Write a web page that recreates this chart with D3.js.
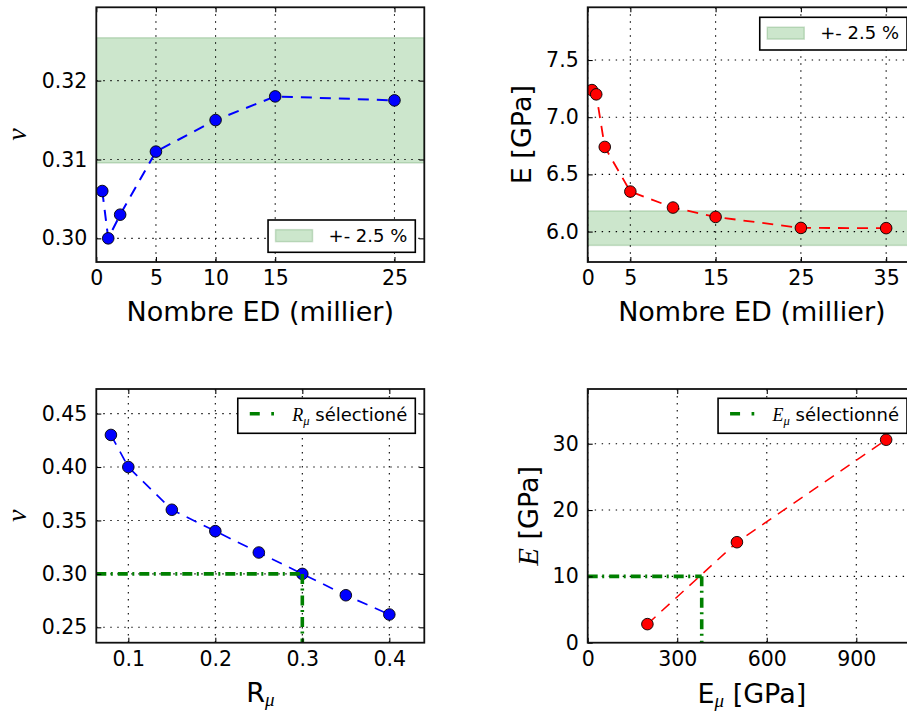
<!DOCTYPE html>
<html>
<head>
<meta charset="utf-8">
<script src="https://cdn.jsdelivr.net/npm/d3@7"></script>
<style>
  html, body { margin: 0; padding: 0; background: #fff; }
  svg { display: block; }
  text { font-family: "DejaVu Sans", sans-serif; fill: #000; }
</style>
</head>
<body>
<svg id="chart" width="907" height="713"></svg>
<script>
// ---------- DATA ----------
// Panel A: Poisson ratio vs number of discrete elements (thousands)
const edA = [0.5, 1, 2, 5, 10, 15, 25];
const nuA = [0.306, 0.300, 0.303, 0.311, 0.315, 0.318, 0.3175];
const xTicksA = [0, 5, 10, 15, 25];
const yTicksA = [0.30, 0.31, 0.32];

// Panel B: Young modulus vs number of discrete elements (thousands)
const edB = [0.5, 1, 2, 5, 10, 15, 25, 35];
const eB = [7.237, 7.20, 6.74, 6.35, 6.21, 6.128, 6.032, 6.03];
const xTicksB = [0, 5, 15, 25, 35];
const yTicksB = [6.0, 6.5, 7.0, 7.5];

// Panel C: Poisson ratio vs R_mu
const rMu = [0.08, 0.10, 0.15, 0.20, 0.25, 0.30, 0.35, 0.40];
const nuC = [0.430, 0.400, 0.360, 0.340, 0.320, 0.300, 0.280, 0.262];
const xTicksC = [0.1, 0.2, 0.3, 0.4];
const yTicksC = [0.25, 0.30, 0.35, 0.40, 0.45];
const rSel = 0.30, nuSel = 0.30;

// Panel D: Young modulus vs E_mu
const eMu = [200, 500, 1000];
const eD = [2.8, 15.15, 30.6];
const xTicksD = [0, 300, 600, 900];
const yTicksD = [0, 10, 20, 30];
const eMuSel = 382, eSel = 10;

// tolerance bands (+- 2.5 % around converged value)
const tol = 0.025;
const nuRef = 0.3175;
const eRef = 6.03;

// ---------- DRAWING ----------
const svg = d3.select("#chart");
const TICK_FS = 20.5, LABEL_FS = 27, LEG_FS = 18;
const SERIF = "Liberation Serif, DejaVu Serif, serif";

function panel(cfg) {
  const g = svg.append("g");
  const x = d3.scaleLinear().domain(cfg.xDomain).range([cfg.left, cfg.right]);
  const y = d3.scaleLinear().domain(cfg.yDomain).range([cfg.bottom, cfg.top]);
  const id = "clip" + cfg.id;
  svg.append("clipPath").attr("id", id).append("rect")
    .attr("x", cfg.left).attr("y", cfg.top)
    .attr("width", cfg.right - cfg.left).attr("height", cfg.bottom - cfg.top);
  const plot = g.append("g").attr("clip-path", `url(#${id})`);

  // band
  if (cfg.band) {
    plot.append("rect")
      .attr("x", cfg.left).attr("width", cfg.right - cfg.left)
      .attr("y", y(cfg.band[1])).attr("height", y(cfg.band[0]) - y(cfg.band[1]))
      .attr("fill", "rgb(0,128,0)").attr("fill-opacity", 0.2)
      .attr("stroke", "rgb(0,100,0)").attr("stroke-opacity", 0.18).attr("stroke-width", 1.5);
  }

  // grid
  plot.selectAll(".gx").data(cfg.xTicks).join("line")
    .attr("x1", d => x(d)).attr("x2", d => x(d))
    .attr("y1", cfg.top).attr("y2", cfg.bottom)
    .attr("stroke", "#000").attr("stroke-width", 1.1).attr("stroke-dasharray", "1.4,5.6");
  plot.selectAll(".gy").data(cfg.yTicks).join("line")
    .attr("y1", d => y(d)).attr("y2", d => y(d))
    .attr("x1", cfg.left).attr("x2", cfg.right)
    .attr("stroke", "#000").attr("stroke-width", 1.1).attr("stroke-dasharray", "1.4,5.6");

  // data line
  const pts = cfg.xs.map((v, i) => [v, cfg.ys[i]]);
  plot.append("path").datum(pts)
    .attr("d", d3.line().x(d => x(d[0])).y(d => y(d[1])))
    .attr("fill", "none").attr("stroke", cfg.color)
    .attr("stroke-width", cfg.lw).attr("stroke-dasharray", "11,8");

  // markers
  plot.selectAll(".pt").data(pts).join("circle")
    .attr("cx", d => x(d[0])).attr("cy", d => y(d[1]))
    .attr("r", 5.8).attr("fill", cfg.color)
    .attr("stroke", "#000").attr("stroke-width", 0.9);

  // selected value lines
  if (cfg.sel) {
    const [sx, sy] = cfg.sel;
    plot.append("path")
      .datum([[cfg.xDomain[0], sy], [sx, sy]])
      .attr("d", d3.line().x(d => x(d[0])).y(d => y(d[1])))
      .attr("fill", "none").attr("stroke", "#008000").attr("stroke-width", 3.6)
      .attr("stroke-dasharray", "10,4.5,2,5");
    plot.append("path")
      .datum([[sx, sy], [sx, cfg.yDomain[0]]])
      .attr("d", d3.line().x(d => x(d[0])).y(d => y(d[1])))
      .attr("fill", "none").attr("stroke", "#008000").attr("stroke-width", 3.6)
      .attr("stroke-dasharray", "10,4.5,2,5");
  }

  // axes (ticks inward on all sides)
  const ax = g.append("g").attr("transform", `translate(0,${cfg.bottom})`)
    .call(d3.axisBottom(x).tickValues(cfg.xTicks).tickFormat(cfg.fmtX).tickSize(-5).tickPadding(8.5));
  const ay = g.append("g").attr("transform", `translate(${cfg.left},0)`)
    .call(d3.axisLeft(y).tickValues(cfg.yTicks).tickFormat(cfg.fmtY).tickSize(-5).tickPadding(9));
  const at = g.append("g").attr("transform", `translate(0,${cfg.top})`)
    .call(d3.axisTop(x).tickValues(cfg.xTicks).tickFormat("").tickSize(-5));
  const ar = g.append("g").attr("transform", `translate(${cfg.right},0)`)
    .call(d3.axisRight(y).tickValues(cfg.yTicks).tickFormat("").tickSize(-5));
  [ax, ay, at, ar].forEach(a => {
    a.select(".domain").remove();
    a.selectAll("line").attr("stroke", "#000").attr("stroke-width", 1.1);
    a.selectAll("text").style("font-family", "DejaVu Sans").style("font-size", TICK_FS + "px").attr("fill", "#000");
  });

  // spines
  g.append("rect")
    .attr("x", cfg.left).attr("y", cfg.top)
    .attr("width", cfg.right - cfg.left).attr("height", cfg.bottom - cfg.top)
    .attr("fill", "none").attr("stroke", "#111").attr("stroke-width", 1.8);

  // x label
  const xl = g.append("text")
    .attr("x", (cfg.left + cfg.right) / 2).attr("y", cfg.xLabelY)
    .attr("text-anchor", "middle").style("font-size", LABEL_FS + "px");
  cfg.xLabel(xl);

  // y label
  const yl = g.append("text")
    .attr("transform", `translate(${cfg.yLabelX},${(cfg.top + cfg.bottom) / 2}) rotate(-90)`)
    .attr("text-anchor", "middle").style("font-size", LABEL_FS + "px");
  cfg.yLabel(yl);

  // legend
  const lg = cfg.legend;
  const lgG = g.append("g");
  const txt = lgG.append("text").style("font-size", LEG_FS + "px");
  lg.text(txt);
  const tw = txt.node().getComputedTextLength();
  const boxR = cfg.right - 9;
  const boxW = lg.handleW + 7.5 + lg.gap + tw + 8;
  const boxL = boxR - boxW;
  const boxT = lg.top, boxH = lg.h;
  lgG.insert("rect", "text")
    .attr("x", boxL).attr("y", boxT).attr("width", boxW).attr("height", boxH)
    .attr("fill", "#fff").attr("stroke", "#000").attr("stroke-width", 1.6);
  const hx = boxL + 7.5, hy = boxT + boxH / 2;
  if (lg.kind === "patch") {
    lgG.append("rect").attr("x", hx).attr("y", hy - 6.5).attr("width", lg.handleW).attr("height", 12)
      .attr("fill", "rgb(0,128,0)").attr("fill-opacity", 0.2)
      .attr("stroke", "rgb(0,100,0)").attr("stroke-opacity", 0.18).attr("stroke-width", 1.5);
  } else {
    lgG.append("line").attr("x1", hx + 4.5).attr("x2", hx + lg.handleW - 5).attr("y1", hy - 2).attr("y2", hy - 2)
      .attr("stroke", "#008000").attr("stroke-width", 3.6).attr("stroke-dasharray", "10,11.5,2.7,30");
  }
  txt.attr("x", hx + lg.handleW + lg.gap).attr("y", hy + lg.dy);
}

const fmt2 = d3.format(".2f"), fmt1 = d3.format(".1f"), fmt0 = d3.format("d");

function addSub(t, base, sub) {
  t.append("tspan").text(base).style("font-family", SERIF).style("font-style", "italic");
  t.append("tspan").text(sub).attr("dy", "0.28em").style("font-size", "0.7em")
    .style("font-family", SERIF).style("font-style", "italic");
  return t;
}
const nuLabel = t => t.append("tspan").text("ν").style("font-family", SERIF).style("font-style", "italic").style("font-size", "28px");

// A
panel({
  id: "A", left: 96.3, right: 424.3, top: 7.3, bottom: 262,
  xDomain: [0, 27.5], yDomain: [0.297, 0.3293],
  xTicks: xTicksA, yTicks: yTicksA, fmtX: fmt0, fmtY: fmt2,
  xs: edA, ys: nuA, color: "#0000ff", lw: 2,
  band: [nuRef * (1 - tol), nuRef * (1 + tol)],
  xLabelY: 320.7, yLabelX: 26,
  xLabel: t => t.text("Nombre ED (millier)"),
  yLabel: nuLabel,
  legend: { kind: "patch", top: 220, h: 32.3, handleW: 37, gap: 16, dy: 5.8,
    text: t => t.text("+- 2.5 %") }
});

// B
panel({
  id: "B", left: 587.7, right: 916, top: 7.3, bottom: 262,
  xDomain: [0, 38.5], yDomain: [5.734, 7.961],
  xTicks: xTicksB, yTicks: yTicksB, fmtX: fmt0, fmtY: fmt1,
  xs: edB, ys: eB, color: "#ff0000", lw: 1.8,
  band: [eRef * (1 - tol), eRef * (1 + tol)],
  xLabelY: 320.7, yLabelX: 531,
  xLabel: t => t.text("Nombre ED (millier)"),
  yLabel: t => t.text("E [GPa]"),
  legend: { kind: "patch", top: 17.3, h: 32.7, handleW: 37, gap: 16, dy: 5.8,
    text: t => t.text("+- 2.5 %") }
});

// C
panel({
  id: "C", left: 96.3, right: 424.3, top: 389, bottom: 642.7,
  xDomain: [0.0632, 0.4402], yDomain: [0.2356, 0.473],
  xTicks: xTicksC, yTicks: yTicksC, fmtX: fmt1, fmtY: fmt2,
  xs: rMu, ys: nuC, color: "#0000ff", lw: 1.7,
  sel: [rSel, nuSel],
  xLabelY: 702, yLabelX: 26,
  xLabel: t => { t.append("tspan").text("R"); t.append("tspan").text("μ").attr("dy", "0.2em").style("font-size", "19px").style("font-family", SERIF).style("font-style", "italic"); },
  yLabel: nuLabel,
  legend: { kind: "line", top: 398.3, h: 35, handleW: 37, gap: 10, dy: 5.5,
    text: t => { addSub(t, "R", "μ"); t.append("tspan").text(" sélectioné").attr("dy", "-0.2em"); } }
});

// D
panel({
  id: "D", left: 587.7, right: 916, top: 389, bottom: 642.7,
  xDomain: [0, 1100], yDomain: [0, 38.25],
  xTicks: xTicksD, yTicks: yTicksD, fmtX: fmt0, fmtY: fmt0,
  xs: eMu, ys: eD, color: "#ff0000", lw: 1.5,
  sel: [eMuSel, eSel],
  xLabelY: 703, yLabelX: 538,
  xLabel: t => { t.append("tspan").text("E"); t.append("tspan").text("μ").attr("dy", "0.2em").style("font-size", "19px").style("font-family", SERIF).style("font-style", "italic"); t.append("tspan").text(" [GPa]").attr("dy", "-0.14em"); },
  yLabel: t => { t.append("tspan").text("E").style("font-family", SERIF).style("font-style", "italic").style("font-size", "29px"); t.append("tspan").text(" [GPa]"); },
  legend: { kind: "line", top: 398.3, h: 35, handleW: 37, gap: 10, dy: 5.5,
    text: t => { addSub(t, "E", "μ"); t.append("tspan").text(" sélectionné").attr("dy", "-0.2em"); } }
});
</script>
</body>
</html>
